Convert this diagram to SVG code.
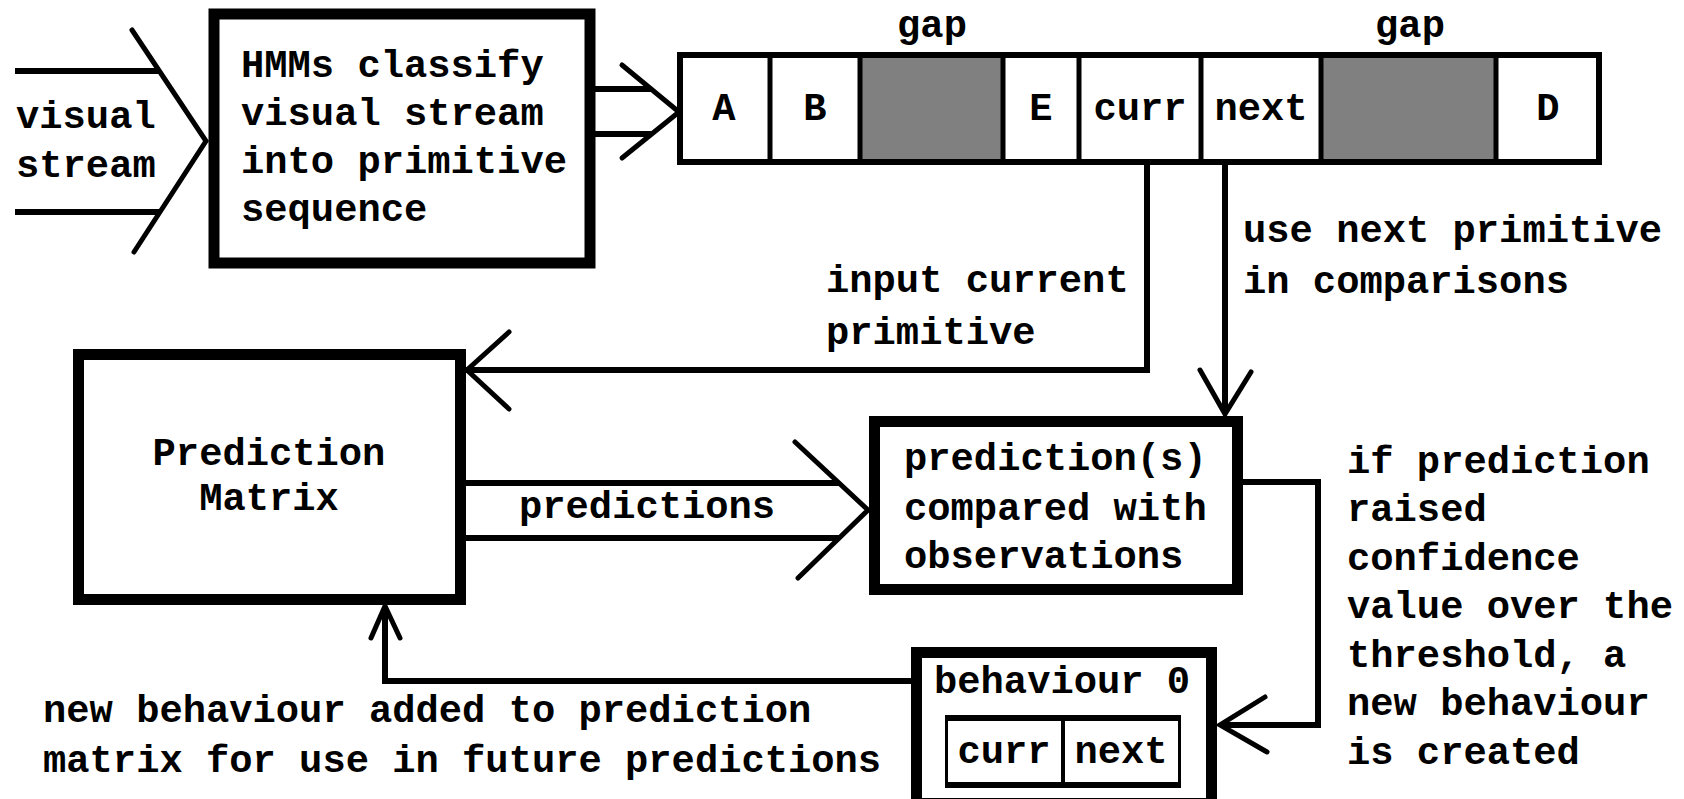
<svg xmlns="http://www.w3.org/2000/svg" width="1684" height="799" viewBox="0 0 1684 799">
<style>
text{font-family:"Liberation Mono","Courier New",monospace;font-weight:bold;font-size:38.8px;fill:#000}
.box{fill:#fff;stroke:#000;stroke-width:11}
.ln{fill:none;stroke:#000;stroke-width:6;stroke-linejoin:miter;stroke-linecap:butt}
.ah{fill:none;stroke:#000;stroke-width:5;stroke-linejoin:miter;stroke-linecap:round}
.mid{text-anchor:middle}
.gap{fill:#808080}
.div{stroke:#000;stroke-width:5}
</style>
<rect width="1684" height="799" fill="#fff"/>

<g id="hmm">
<rect class="box" x="214" y="14" width="376" height="249" stroke-width="10"/>
<text x="241" y="77">HMMs classify</text>
<text x="241" y="125">visual stream</text>
<text x="241" y="173">into primitive</text>
<text x="241" y="221">sequence</text>
</g>

<g id="sequence">
<rect x="680" y="55" width="919" height="107" fill="#fff" stroke="#000" stroke-width="6"/>
<rect class="gap" x="860" y="58" width="143" height="101"/>
<rect class="gap" x="1321" y="58" width="175" height="101"/>
<line class="div" x1="770" y1="55" x2="770" y2="162"/>
<line class="div" x1="860" y1="55" x2="860" y2="162"/>
<line class="div" x1="1003" y1="55" x2="1003" y2="162"/>
<line class="div" x1="1079" y1="55" x2="1079" y2="162"/>
<line class="div" x1="1201" y1="55" x2="1201" y2="162"/>
<line class="div" x1="1321" y1="55" x2="1321" y2="162"/>
<line class="div" x1="1496" y1="55" x2="1496" y2="162"/>
<text class="mid" x="724" y="120">A</text>
<text class="mid" x="815" y="120">B</text>
<text class="mid" x="1041" y="120">E</text>
<text class="mid" x="1140" y="120">curr</text>
<text class="mid" x="1261" y="120">next</text>
<text class="mid" x="1548" y="120">D</text>
<text class="mid" x="932" y="37">gap</text>
<text class="mid" x="1410" y="37">gap</text>
</g>

<g id="prediction-matrix">
<rect class="box" x="78.5" y="354.5" width="382" height="245"/>
<text class="mid" x="269" y="465">Prediction</text>
<text class="mid" x="269" y="510">Matrix</text>
</g>

<g id="compare">
<rect class="box" x="874.5" y="421.5" width="363" height="168"/>
<text x="904" y="470">prediction(s)</text>
<text x="904" y="520">compared with</text>
<text x="904" y="568">observations</text>
</g>

<g id="behaviour">
<rect class="box" x="916.5" y="652.5" width="295" height="151"/>
<text x="934" y="693">behaviour 0</text>
<rect x="945" y="715" width="236" height="73" fill="#000"/>
<rect x="948" y="721" width="113" height="61" fill="#fff"/>
<rect x="1065" y="721" width="113" height="61" fill="#fff"/>
<text class="mid" x="1004" y="763">curr</text>
<text class="mid" x="1121" y="763">next</text>
</g>

<g id="connectors">
<!-- visual stream input -->
<line class="ln" x1="15" y1="71" x2="160" y2="71"/>
<line class="ln" x1="15" y1="212" x2="160" y2="212"/>
<polyline class="ah" points="132,30 206,141 134,252"/>
<!-- HMM to sequence -->
<line class="ln" x1="595" y1="89" x2="651" y2="89"/>
<line class="ln" x1="595" y1="134" x2="651" y2="134"/>
<polyline class="ah" points="622,65 679,112 622,158"/>
<!-- curr to prediction matrix -->
<polyline class="ln" points="1147,165 1147,370 466,370" stroke-width="7"/>
<polyline class="ah" points="509,332 467,370 509,409"/>
<!-- next to compare -->
<line class="ln" x1="1225" y1="165" x2="1225" y2="412" stroke-width="5"/>
<polyline class="ah" points="1200,370 1225,414 1251,372"/>
<!-- predictions -->
<line class="ln" x1="466" y1="483" x2="839" y2="483"/>
<line class="ln" x1="466" y1="538" x2="839" y2="538"/>
<polyline class="ah" points="795,442 868,510 798,578"/>
<!-- compare to behaviour -->
<polyline class="ln" points="1243,482 1318,482 1318,725 1222,725" stroke-width="6"/>
<polyline class="ah" points="1265,697 1220,725 1267,752"/>
<!-- behaviour back to prediction matrix -->
<polyline class="ln" points="911,681 385,681 385,608" stroke-width="7"/>
<polyline class="ah" points="371,638 385,606 400,638"/>
</g>

<g id="labels">
<text x="16" y="128">visual</text>
<text x="16" y="177">stream</text>
<text x="826" y="292">input current</text>
<text x="826" y="344">primitive</text>
<text x="1243" y="242">use next primitive</text>
<text x="1243" y="293">in comparisons</text>
<text x="519" y="518">predictions</text>
<text x="1347" y="473">if prediction</text>
<text x="1347" y="521">raised</text>
<text x="1347" y="570">confidence</text>
<text x="1347" y="618">value over the</text>
<text x="1347" y="667">threshold, a</text>
<text x="1347" y="715">new behaviour</text>
<text x="1347" y="764">is created</text>
<text x="43" y="722">new behaviour added to prediction</text>
<text x="43" y="772">matrix for use in future predictions</text>
</g>
</svg>
